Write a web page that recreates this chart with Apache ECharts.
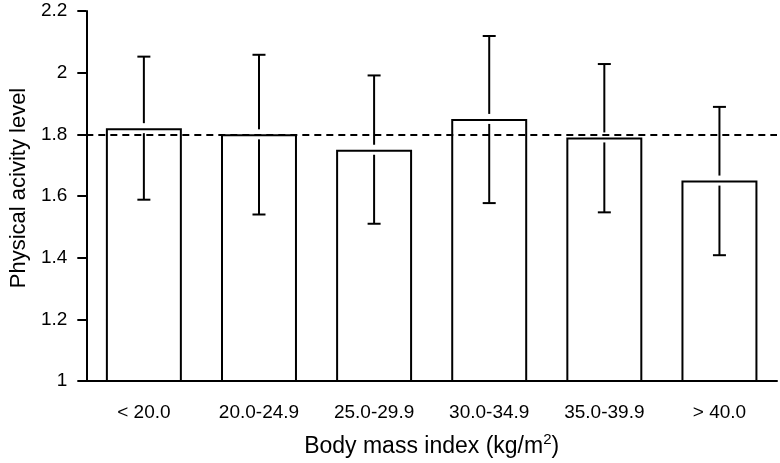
<!DOCTYPE html>
<html>
<head>
<meta charset="utf-8">
<script src="https://cdn.jsdelivr.net/npm/echarts@6/dist/echarts.min.js"></script>
<style>html,body{margin:0;padding:0;background:#fff;}#c{width:780px;height:463px;}</style>
</head>
<body>
<div id="c"></div>
<script>
var categories = ['< 20.0', '20.0-24.9', '25.0-29.9', '30.0-34.9', '35.0-39.9', '> 40.0'];
var meanPAL = [1.82, 1.80, 1.75, 1.85, 1.79, 1.65];
var errUpper = [2.052, 2.058, 1.991, 2.119, 2.028, 1.889];
var errLower = [1.588, 1.540, 1.510, 1.577, 1.547, 1.408];
var refLevel = 1.8;
var yTicks = { min: 1, max: 2.2, interval: 0.2 };

var chart = echarts.init(document.getElementById('c'), null, { renderer: 'canvas' });
var FONT = '"Liberation Sans", Arial, sans-serif';
var errData = categories.map(function (c, i) { return [i, errLower[i], errUpper[i], meanPAL[i]]; });

chart.setOption({
  animation: false,
  backgroundColor: '#fff',
  grid: { left: 86, right: 3, top: 11, bottom: 81, containLabel: false },
  xAxis: {
    type: 'category',
    data: categories,
    boundaryGap: true,
    axisLine: { lineStyle: { color: '#000', width: 2 } },
    axisTick: { alignWithLabel: true, length: 10, lineStyle: { color: '#000', width: 2 } },
    axisLabel: { color: '#000', fontSize: 19, fontFamily: FONT, margin: 22 },
    name: '{a|Body mass index (kg/m}{s|2}{a|)}',
    nameLocation: 'middle',
    nameGap: 51,
    nameTextStyle: {
      rich: {
        a: { fontSize: 23, fontFamily: FONT, color: '#000', lineHeight: 26, verticalAlign: 'bottom' },
        s: { fontSize: 15, fontFamily: FONT, color: '#000', lineHeight: 26, verticalAlign: 'top', padding: [0, 0, 9, 0] }
      }
    }
  },
  yAxis: {
    type: 'value',
    min: yTicks.min, max: yTicks.max, interval: yTicks.interval,
    splitLine: { show: false },
    axisLine: { show: true, lineStyle: { color: '#000', width: 2 } },
    axisTick: { show: true, length: 9, lineStyle: { color: '#000', width: 2 } },
    axisLabel: { color: '#000', fontSize: 19, fontFamily: FONT, margin: 19 },
    name: 'Physical acivity level',
    nameLocation: 'middle',
    nameGap: 54,
    nameTextStyle: { color: '#000', fontSize: 22, fontFamily: FONT, padding: [0, 0, 0, 16] }
  },
  series: [
    {
      type: 'bar',
      data: meanPAL,
      barWidth: '66%',
      itemStyle: { color: '#fff', borderColor: '#000', borderWidth: 2 },
      z: 2
    },
    {
      type: 'custom',
      data: errData,
      z: 3,
      renderItem: function (params, api) {
        var i = api.value(0);
        var lo = api.coord([i, api.value(1)]);
        var hi = api.coord([i, api.value(2)]);
        var mid = api.coord([i, api.value(3)]);
        var x = lo[0];
        var cap = 6.5, gap = 5;
        var st = { stroke: '#000', lineWidth: 2 };
        return {
          type: 'group',
          children: [
            { type: 'line', shape: { x1: x, y1: hi[1], x2: x, y2: mid[1] - gap }, style: st },
            { type: 'line', shape: { x1: x, y1: mid[1] + gap, x2: x, y2: lo[1] }, style: st },
            { type: 'line', shape: { x1: x - cap, y1: hi[1], x2: x + cap, y2: hi[1] }, style: st },
            { type: 'line', shape: { x1: x - cap, y1: lo[1], x2: x + cap, y2: lo[1] }, style: st }
          ]
        };
      }
    },
    {
      type: 'line',
      data: [],
      z: 4,
      markLine: {
        silent: true,
        symbol: ['none', 'none'],
        label: { show: false },
        lineStyle: { color: '#000', width: 2, type: [7, 5] },
        data: [{ yAxis: refLevel }]
      }
    }
  ]
});
</script>
</body>
</html>
